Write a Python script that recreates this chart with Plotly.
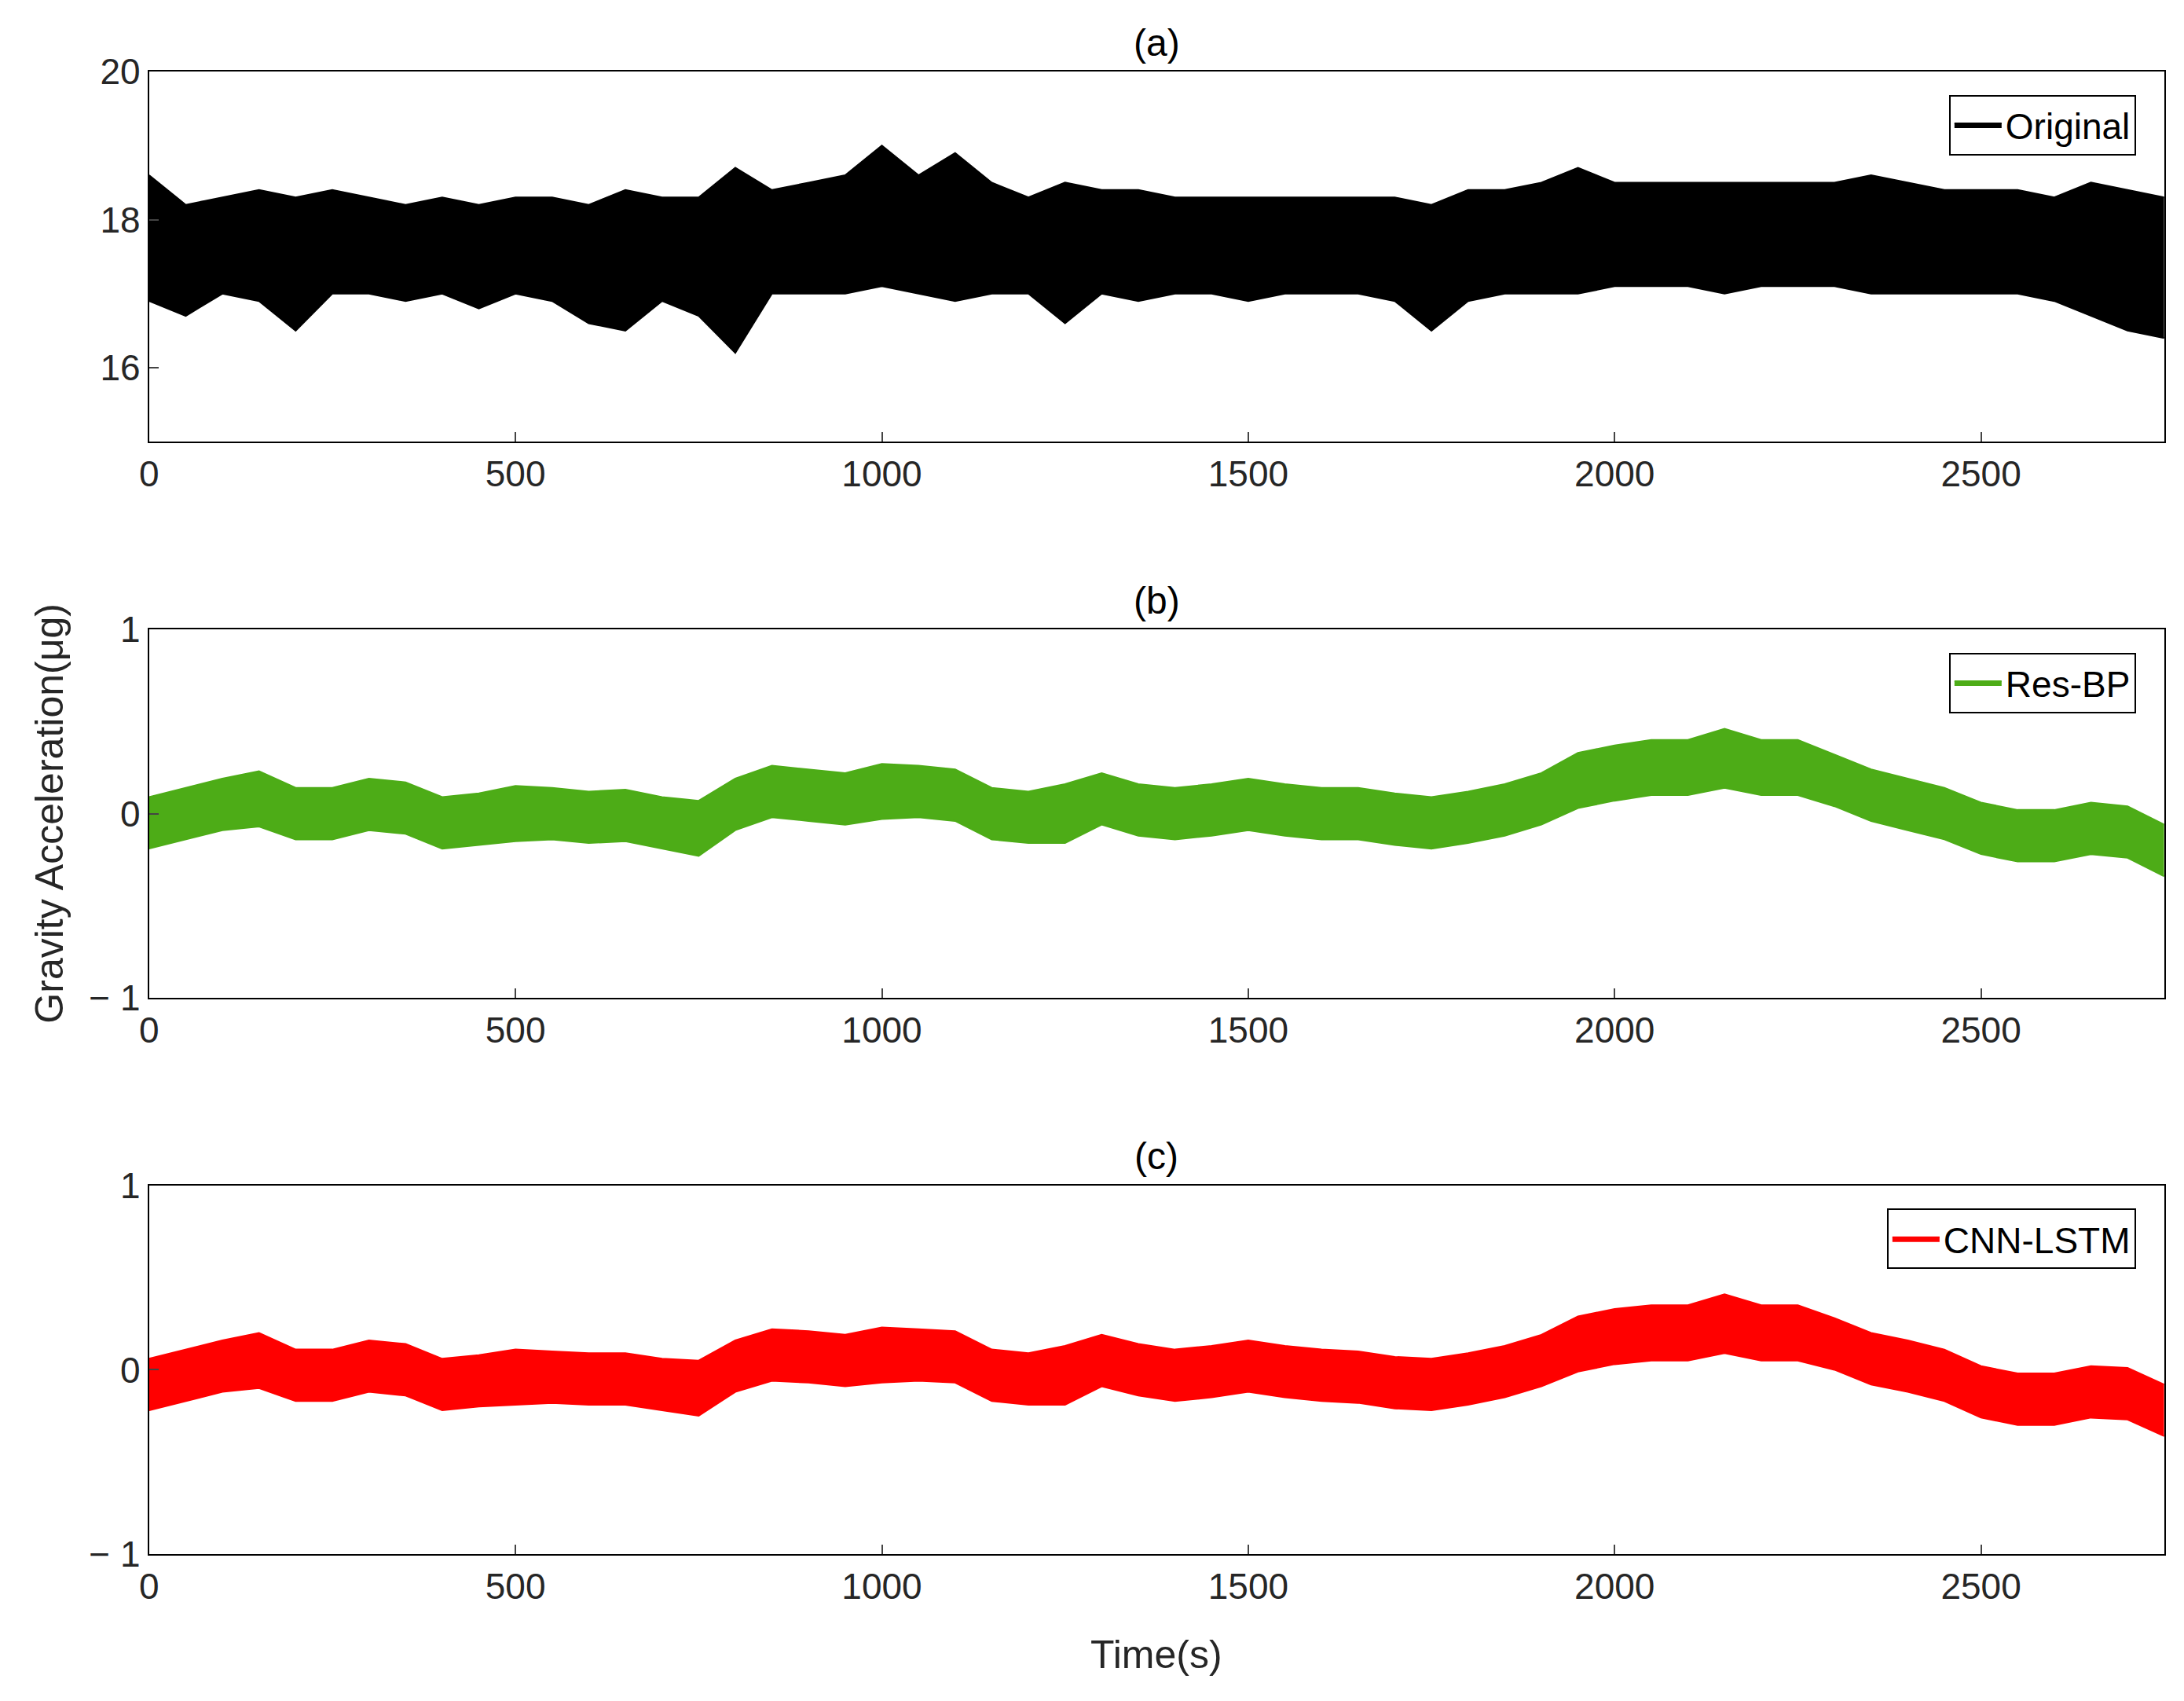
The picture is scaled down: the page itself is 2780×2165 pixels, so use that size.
import plotly.graph_objects as go

t = list(range(0, 2751, 50))

# (a) original signal: upper / lower edges of the noise band (ug)
orig_hi = [18.6, 18.2, 18.3, 18.4, 18.3, 18.4, 18.3, 18.2, 18.3, 18.2, 18.3, 18.3, 18.2, 18.4,
           18.3, 18.3, 18.7, 18.4, 18.5, 18.6, 19.0, 18.6, 18.9, 18.5, 18.3, 18.5, 18.4, 18.4,
           18.3, 18.3, 18.3, 18.3, 18.3, 18.3, 18.3, 18.2, 18.4, 18.4, 18.5, 18.7, 18.5, 18.5,
           18.5, 18.5, 18.5, 18.5, 18.5, 18.6, 18.5, 18.4, 18.4, 18.4, 18.3, 18.5, 18.4, 18.3]
orig_lo = [16.9, 16.7, 17.0, 16.9, 16.5, 17.0, 17.0, 16.9, 17.0, 16.8, 17.0, 16.9, 16.6, 16.5,
           16.9, 16.7, 16.2, 17.0, 17.0, 17.0, 17.1, 17.0, 16.9, 17.0, 17.0, 16.6, 17.0, 16.9,
           17.0, 17.0, 16.9, 17.0, 17.0, 17.0, 16.9, 16.5, 16.9, 17.0, 17.0, 17.0, 17.1, 17.1,
           17.1, 17.0, 17.1, 17.1, 17.1, 17.0, 17.0, 17.0, 17.0, 17.0, 16.9, 16.7, 16.5, 16.4]

# (b) Res-BP residual: trend and half-width of band
bp_mid = [-0.05, 0.0, 0.05, 0.08, 0.0, 0.0, 0.05, 0.03, -0.05, -0.03, 0.0, 0.0, -0.02, -0.01,
          -0.05, -0.08, 0.05, 0.12, 0.1, 0.08, 0.12, 0.12, 0.1, 0.0, -0.02, 0.0, 0.08, 0.02,
          0.0, 0.02, 0.05, 0.02, 0.0, 0.0, -0.03, -0.05, -0.02, 0.02, 0.08, 0.18, 0.22, 0.25,
          0.25, 0.3, 0.25, 0.25, 0.18, 0.1, 0.05, 0.0, -0.08, -0.12, -0.12, -0.08, -0.1, -0.2]
bp_half = [0.14, 0.14, 0.14, 0.15, 0.14, 0.14, 0.14, 0.14, 0.14, 0.14, 0.15, 0.14, 0.14, 0.14,
           0.14, 0.15, 0.14, 0.14, 0.14, 0.14, 0.15, 0.14, 0.14, 0.14, 0.14, 0.16, 0.14, 0.14,
           0.14, 0.14, 0.14, 0.14, 0.14, 0.14, 0.14, 0.14, 0.14, 0.14, 0.14, 0.15, 0.15, 0.15,
           0.15, 0.16, 0.15, 0.15, 0.14, 0.14, 0.14, 0.14, 0.14, 0.14, 0.14, 0.14, 0.14, 0.14]

# (c) CNN-LSTM residual
cl_mid = [-0.08, -0.03, 0.02, 0.05, -0.03, -0.03, 0.02, 0.0, -0.08, -0.06, -0.04, -0.04, -0.05, -0.05,
          -0.08, -0.1, 0.02, 0.08, 0.07, 0.05, 0.08, 0.08, 0.07, -0.03, -0.05, -0.03, 0.05, 0.0,
          -0.03, -0.01, 0.02, -0.01, -0.03, -0.04, -0.07, -0.08, -0.05, -0.01, 0.05, 0.14, 0.18, 0.2,
          0.2, 0.25, 0.2, 0.2, 0.14, 0.06, 0.02, -0.03, -0.12, -0.16, -0.16, -0.12, -0.13, -0.22]
cl_half = bp_half

panels = [
    ("Original", "black", orig_hi, orig_lo),
    ("Res-BP", "#4dac17", [m + h for m, h in zip(bp_mid, bp_half)], [m - h for m, h in zip(bp_mid, bp_half)]),
    ("CNN-LSTM", "#ff0000", [m + h for m, h in zip(cl_mid, cl_half)], [m - h for m, h in zip(cl_mid, cl_half)]),
]
domains = [[0.750, 0.973], [0.415, 0.637], [0.080, 0.302]]
yranges = [[15, 20], [-1, 1], [-1, 1]]
yticks = [[16, 18, 20], [-1, 0, 1], [-1, 0, 1]]
titles = ["(a)", "(b)", "(c)"]
XDOM = [0.061, 0.988]
XMID = (XDOM[0] + XDOM[1]) / 2

FONT = "Liberation Sans, Arial, sans-serif"
fig = go.Figure()
layout = {}
ann = []
for i, (name, col, hi, lo) in enumerate(panels):
    k = "" if i == 0 else str(i + 1)
    lg = "legend" + k
    fig.add_trace(go.Scatter(x=t, y=lo, mode="lines", line=dict(color=col, width=2),
                             xaxis="x" + k, yaxis="y" + k, showlegend=False, hoverinfo="skip"))
    fig.add_trace(go.Scatter(x=t, y=hi, mode="lines", line=dict(color=col, width=2), fill="tonexty",
                             fillcolor=col, xaxis="x" + k, yaxis="y" + k, name=name, legend=lg))
    ax = dict(showline=True, linecolor="black", linewidth=2, mirror=True, ticks="inside",
              ticklen=12, tickwidth=2, showgrid=False, zeroline=False,
              tickfont=dict(size=46, color="#262626", family=FONT))
    layout["xaxis" + k] = dict(ax, domain=XDOM, range=[0, 2750], tickvals=[0, 500, 1000, 1500, 2000, 2500],
                               anchor="y" + k)
    layout["yaxis" + k] = dict(ax, domain=domains[i], range=yranges[i], tickvals=yticks[i],
                               ticktext=[("\u2212 " + str(-v)) if v < 0 else str(v) for v in yticks[i]],
                               anchor="x" + k)
    layout[lg] = dict(x=0.975, y=domains[i][1] - 0.014, xanchor="right", yanchor="top",
                      bgcolor="white", bordercolor="black", borderwidth=2, itemwidth=60,
                      font=dict(size=46, color="black", family=FONT))
    ann.append(dict(text=titles[i], x=XMID, y=domains[i][1] + 0.004, xref="paper", yref="paper",
                    xanchor="center", yanchor="bottom", showarrow=False,
                    font=dict(size=48, color="black", family=FONT)))

ann.append(dict(text="Time(s)", x=XMID, y=0.005, xref="paper", yref="paper", xanchor="center",
                yanchor="bottom", showarrow=False, font=dict(size=50, color="#262626", family=FONT)))
ann.append(dict(text="Gravity Acceleration(\u03bcg)", x=0.004, y=0.526, xref="paper", yref="paper",
                xanchor="left", yanchor="middle", textangle=-90, showarrow=False,
                font=dict(size=50, color="#262626", family=FONT)))

fig.update_layout(width=2780, height=2165, paper_bgcolor="white", plot_bgcolor="white",
                  margin=dict(l=0, r=0, t=0, b=0), annotations=ann, **layout)
fig.write_html("out.html")
